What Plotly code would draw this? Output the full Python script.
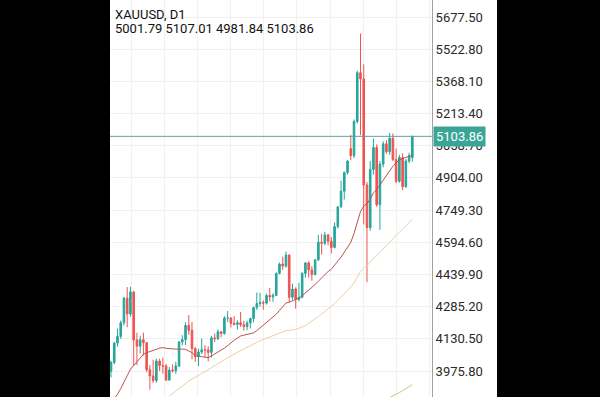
import plotly.graph_objects as go

# ---------------- data ----------------
dates = [
    "2025-10-10", "2025-10-13", "2025-10-14", "2025-10-15", "2025-10-16", "2025-10-17", "2025-10-20", "2025-10-21",
    "2025-10-22", "2025-10-23", "2025-10-24", "2025-10-27", "2025-10-28", "2025-10-29", "2025-10-30", "2025-10-31",
    "2025-11-03", "2025-11-04", "2025-11-05", "2025-11-06", "2025-11-07", "2025-11-10", "2025-11-11", "2025-11-12",
    "2025-11-13", "2025-11-14", "2025-11-17", "2025-11-18", "2025-11-19", "2025-11-20", "2025-11-21", "2025-11-24",
    "2025-11-25", "2025-11-26", "2025-11-27", "2025-11-28", "2025-12-01", "2025-12-02", "2025-12-03", "2025-12-04",
    "2025-12-05", "2025-12-08", "2025-12-09", "2025-12-10", "2025-12-11", "2025-12-12", "2025-12-15", "2025-12-16",
    "2025-12-17", "2025-12-18", "2025-12-19", "2025-12-22", "2025-12-23", "2025-12-24", "2025-12-26", "2025-12-29",
    "2025-12-30", "2025-12-31", "2026-01-02", "2026-01-05", "2026-01-06", "2026-01-07", "2026-01-08", "2026-01-09",
    "2026-01-12", "2026-01-13", "2026-01-14", "2026-01-15", "2026-01-16", "2026-01-19", "2026-01-20", "2026-01-21",
    "2026-01-22", "2026-01-23", "2026-01-26", "2026-01-27", "2026-01-28", "2026-01-29", "2026-01-30", "2026-02-02",
    "2026-02-03", "2026-02-04", "2026-02-05", "2026-02-06", "2026-02-09", "2026-02-10", "2026-02-11", "2026-02-12",
    "2026-02-13", "2026-02-16", "2026-02-17", "2026-02-18", "2026-02-19", "2026-02-20",
]

opens = [
    3975, 4017, 4110, 4142, 4208, 4326, 4250, 4356, 4125, 4095, 4126, 4112, 3982, 3952, 3930, 4024,
    4002, 4000, 3932, 3980, 3977, 4000, 4115, 4127, 4195, 4171, 4084, 4045, 4067, 4078, 4077, 4065,
    4135, 4131, 4164, 4156, 4230, 4230, 4205, 4200, 4208, 4198, 4189, 4207, 4228, 4280, 4300, 4305,
    4302, 4339, 4332, 4339, 4445, 4490, 4480, 4533, 4330, 4370, 4320, 4330, 4445, 4495, 4462, 4440,
    4510, 4595, 4590, 4630, 4600, 4570, 4670, 4765, 4840, 4930, 5045, 5010, 5175, 5410, 5380, 4870,
    4665, 4945, 5050, 4775, 4970, 5068, 5030, 5095, 4992, 4888, 5002, 4862, 4985, 5001.79,
]
highs = [
    4025, 4116, 4179, 4218, 4332, 4379, 4381, 4360, 4160, 4145, 4160, 4115, 4005, 4030, 4036, 4035,
    4040, 4010, 3995, 4008, 4020, 4120, 4148, 4210, 4245, 4211, 4090, 4083, 4132, 4100, 4095, 4145,
    4156, 4175, 4168, 4240, 4264, 4235, 4240, 4220, 4260, 4218, 4218, 4230, 4286, 4353, 4352, 4315,
    4348, 4375, 4350, 4450, 4497, 4525, 4550, 4537, 4395, 4378, 4400, 4450, 4500, 4505, 4480, 4515,
    4630, 4635, 4645, 4635, 4620, 4690, 4765, 4890, 4935, 4990, 5111, 5185, 5420, 5598, 5450, 4885,
    4985, 5092, 5065, 4985, 5080, 5085, 5120, 5118, 5045, 5015, 5022, 4995, 5025, 5107.01,
]
lows = [
    3945, 4008, 4092, 4130, 4195, 4186, 4237, 4003, 4004, 4060, 4050, 3970, 3886, 3918, 3920, 3975,
    3963, 3928, 3930, 3968, 3962, 3995, 4099, 4100, 4150, 4032, 4020, 4000, 4057, 4040, 4022, 4040,
    4115, 4125, 4138, 4150, 4212, 4185, 4195, 4175, 4188, 4170, 4172, 4180, 4210, 4270, 4285, 4270,
    4295, 4310, 4308, 4338, 4440, 4462, 4472, 4305, 4318, 4275, 4310, 4325, 4425, 4425, 4410, 4435,
    4505, 4535, 4580, 4580, 4540, 4565, 4660, 4760, 4800, 4920, 4990, 5000, 5165, 5110, 4680, 4402,
    4650, 4920, 4765, 4654, 4955, 5020, 5015, 4985, 4878, 4880, 4845, 4855, 4975, 4981.84,
]
closes = [
    4017, 4110, 4142, 4208, 4326, 4250, 4356, 4125, 4095, 4126, 4112, 3982, 3952, 3930, 4024, 4002,
    4000, 3932, 3980, 3977, 4000, 4115, 4127, 4195, 4171, 4084, 4045, 4067, 4078, 4077, 4065, 4135,
    4131, 4164, 4156, 4230, 4230, 4205, 4200, 4208, 4198, 4189, 4207, 4228, 4280, 4300, 4305, 4302,
    4339, 4332, 4339, 4445, 4490, 4480, 4533, 4330, 4370, 4320, 4330, 4445, 4495, 4462, 4440, 4510,
    4595, 4590, 4630, 4600, 4570, 4670, 4765, 4840, 4930, 4985, 5010, 5175, 5410, 5380, 4870, 4665,
    4945, 5050, 4775, 4970, 5068, 5030, 5095, 4992, 4888, 5002, 4862, 4985, 5010, 5103.86,
]

# moving averages (one value per candle)
ma_fast = [
    3820, 3841, 3864, 3891, 3925, 3953, 3984, 4002, 4020, 4039, 4056, 4064, 4069, 4072, 4080, 4086,
    4088, 4085, 4082, 4082, 4081, 4082, 4081, 4080, 4073, 4064, 4049, 4046, 4045, 4043, 4040, 4048,
    4057, 4068, 4075, 4086, 4098, 4112, 4123, 4134, 4144, 4148, 4152, 4153, 4159, 4170, 4183, 4194,
    4207, 4220, 4234, 4249, 4267, 4283, 4302, 4307, 4314, 4320, 4326, 4338, 4353, 4367, 4378, 4392,
    4408, 4423, 4439, 4454, 4465, 4482, 4504, 4523, 4545, 4570, 4594, 4637, 4689, 4742, 4769, 4780,
    4802, 4832, 4848, 4871, 4895, 4917, 4940, 4960, 4976, 4992, 4997, 5004, 5008, 5014,
]
ma_slow_idx = list(range(18, 94))
ma_slow = [
    3856, 3867, 3878, 3891, 3903, 3915, 3928, 3938, 3946, 3955, 3964, 3972, 3981, 3990, 3999, 4009,
    4019, 4030, 4040, 4049, 4058, 4067, 4076, 4083, 4090, 4097, 4106, 4114, 4121, 4127, 4133, 4140,
    4147, 4153, 4160, 4166, 4170, 4172, 4172, 4176, 4180, 4187, 4194, 4204, 4214, 4225, 4237, 4249,
    4261, 4275, 4286, 4300, 4315, 4330, 4346, 4362, 4379, 4400, 4428, 4454, 4470, 4482, 4499, 4518,
    4530, 4547, 4565, 4581, 4598, 4614, 4628, 4643, 4657, 4673, 4689, 4706,
]
ma_long_idx = [84, 89, 93]
ma_long = [3833, 3872, 3910]

last_price = 5103.86
header_1 = "XAUUSD, D1"
header_2 = "5001.79 5107.01 4981.84 5103.86"

# ---------------- styles ----------------
BULL = "#26a69a"
BEAR = "#ef5350"
FONT = "Roboto"

n = len(closes)
idx = list(range(n))

fig = go.Figure()
fig.add_trace(go.Scatter(x=ma_long_idx, y=ma_long, mode="lines",
                         line=dict(color="#b9d27a", width=1), hoverinfo="skip"))
fig.add_trace(go.Scatter(x=ma_slow_idx, y=ma_slow, mode="lines",
                         line=dict(color="#eccfa6", width=1), hoverinfo="skip"))
fig.add_trace(go.Scatter(x=idx, y=ma_fast, mode="lines",
                         line=dict(color="#b8554c", width=1), hoverinfo="skip"))
fig.add_trace(go.Candlestick(
    x=idx, open=opens, high=highs, low=lows, close=closes,
    increasing=dict(line=dict(color=BULL, width=1), fillcolor=BULL),
    decreasing=dict(line=dict(color=BEAR, width=1), fillcolor=BEAR),
    whiskerwidth=0, hoverinfo="skip",
))

# current price line
fig.add_hline(y=last_price, line=dict(color="#5f9ea0", width=1))

fig.update_layout(
    width=600, height=397,
    margin=dict(l=110, r=168, t=0, b=0),
    paper_bgcolor="white", plot_bgcolor="white",
    showlegend=False, hovermode=False,
    font=dict(family=FONT, color="#333333", size=13),
    xaxis=dict(range=[-0.31, 99.07], rangeslider=dict(visible=False),
               showticklabels=False, ticks="", zeroline=False,
               showgrid=True, gridcolor="#f1f1f1", gridwidth=1,
               tick0=6.4, dtick=10.2),
    yaxis=dict(side="right", range=[3850.8, 5759.2], tick0=3975.8, dtick=154.7,
               tickformat=".2f", showgrid=True, gridcolor="#f1f1f1", gridwidth=1,
               showline=True, linecolor="#a0a0a0", linewidth=1, zeroline=False,
               ticks="", ticklabelstandoff=0,
               tickfont=dict(family=FONT, size=13, color="#2a2a2a")),
)

# price label box
fig.add_annotation(xref="paper", yref="y", x=1.0, y=last_price, xanchor="left", yanchor="middle",
                   text=f"{last_price:.2f}", showarrow=False, bgcolor="#3aa597",
                   font=dict(family=FONT, size=13, color="white"), borderpad=2, xshift=1)

# headers
fig.add_annotation(xref="paper", yref="paper", x=3/322, y=1 - 5/397, xanchor="left", yanchor="top",
                   text=header_1, showarrow=False, font=dict(family=FONT, size=13, color="#111111"))
fig.add_annotation(xref="paper", yref="paper", x=3/322, y=1 - 19/397, xanchor="left", yanchor="top",
                   text=header_2, showarrow=False, font=dict(family=FONT, size=13, color="#111111"))

# black letterbox bands
fig.add_shape(type="rect", xref="paper", yref="paper", x0=-0.5, x1=0.0, y0=-0.1, y1=1.1,
              fillcolor="black", line=dict(width=0), layer="above")
fig.add_shape(type="rect", xref="paper", yref="paper", x0=(497 - 110) / 322, x1=2.0, y0=-0.1, y1=1.1,
              fillcolor="black", line=dict(width=0), layer="above")

fig.write_html("out.html", config={"displayModeBar": False, "staticPlot": True},
               post_script="document.body.style.margin='0';document.body.style.overflow='hidden';")
